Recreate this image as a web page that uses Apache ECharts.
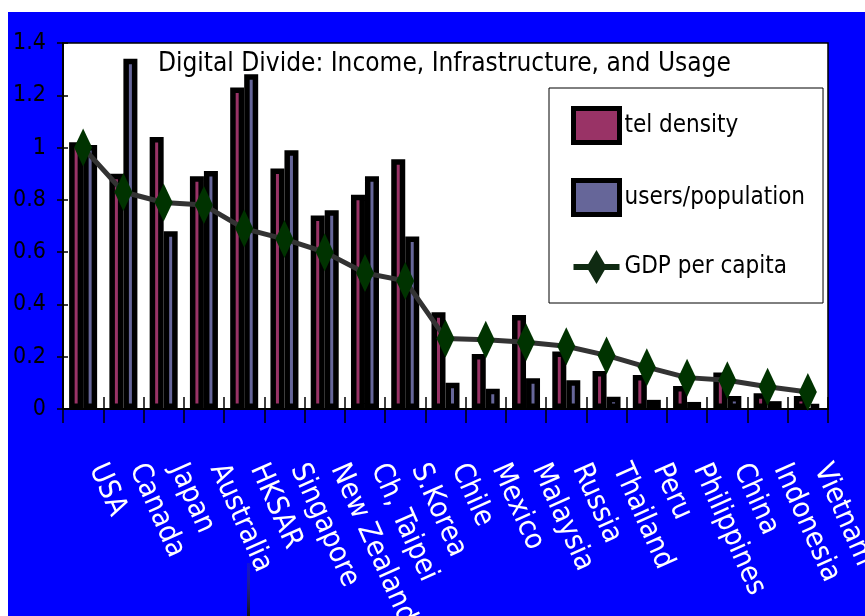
<!DOCTYPE html>
<html>
<head>
<meta charset="utf-8">
<script src="https://cdn.jsdelivr.net/npm/echarts@6/dist/echarts.min.js"></script>
<style>
html,body{margin:0;padding:0;background:#ffffff;}
#bg{position:absolute;left:8px;top:12px;width:857px;height:604px;background:#0000ff;}
#chart{position:absolute;left:0;top:0;width:865px;height:616px;}
</style>
</head>
<body>
<div id="bg"></div>
<div id="chart"></div>
<script>
const chartTitle = 'Digital Divide: Income, Infrastructure, and Usage';
const categories = ['USA','Canada','Japan','Australia','HKSAR','Singapore','New Zealand','Ch, Taipei','S.Korea','Chile','Mexico','Malaysia','Russia','Thailand','Peru','Philippines','China','Indonesia','Vietnam'];
const telDensity = [1.02, 0.90, 1.04, 0.89, 1.23, 0.92, 0.74, 0.82, 0.955, 0.37, 0.21, 0.36, 0.22, 0.145, 0.13, 0.088, 0.14, 0.06, 0.05];
const usersPopulation = [1.01, 1.34, 0.68, 0.91, 1.28, 0.99, 0.76, 0.89, 0.66, 0.10, 0.077, 0.118, 0.11, 0.047, 0.035, 0.027, 0.05, 0.03, 0.02];
const gdpPerCapita = [1.00, 0.83, 0.79, 0.78, 0.69, 0.65, 0.60, 0.52, 0.49, 0.27, 0.265, 0.255, 0.24, 0.205, 0.16, 0.12, 0.11, 0.085, 0.065];
const seriesNames = ['tel density', 'users/population', 'GDP per capita'];
const yMin = 0, yMax = 1.4, yStep = 0.2;

const FONT = "'Liberation Sans Narrow','Arial Narrow','DejaVu Sans Condensed',sans-serif";
const fringe = {textShadowColor: 'rgba(235,150,40,0.85)', textShadowBlur: 0, textShadowOffsetX: -1.5, textShadowOffsetY: 1};

const chart = echarts.init(document.getElementById('chart'), null, {renderer: 'canvas'});
const option = {
  animation: false,
  backgroundColor: 'transparent',
  title: {
    text: chartTitle,
    left: 158,
    top: 51,
    padding: 0,
    textStyle: Object.assign({fontFamily: FONT, fontSize: 26, fontWeight: 'normal', color: '#000'}, fringe)
  },
  legend: {
    orient: 'vertical',
    left: 549,
    top: 88,
    padding: [18, 18, 19, 22],
    itemWidth: 46,
    itemHeight: 34,
    itemGap: 33,
    itemTextGap: 8,
    symbolKeepAspect: false,
    borderColor: '#000',
    borderWidth: 1,
    borderRadius: 0,
    backgroundColor: '#fff',
    textStyle: Object.assign({fontFamily: FONT, fontSize: 24, color: '#000'}, fringe),
    data: [
      {name: seriesNames[0], icon: 'rect', itemStyle: {color: '#993366', borderColor: '#000', borderWidth: 5}},
      {name: seriesNames[1], icon: 'rect', itemStyle: {color: '#666699', borderColor: '#000', borderWidth: 5}},
      {name: seriesNames[2], icon: 'path://M0,14 L14.8,14 L23,0 L31.2,14 L46,14 L46,20 L31.2,20 L23,34 L14.8,20 L0,20 Z',
       itemStyle: {color: '#0f2a12', borderWidth: 0}}
    ]
  },
  grid: {
    left: 63, right: 37, top: 43, bottom: 207,
    outerBoundsMode: 'none',
    containLabel: false,
    show: true, backgroundColor: '#fff', borderColor: '#000', borderWidth: 1.5
  },
  xAxis: [
    {
      type: 'category', data: categories, position: 'bottom', boundaryGap: true,
      axisLine: {show: true, lineStyle: {color: '#000', width: 2}},
      axisTick: {show: true, inside: false, interval: 0, length: 14, lineStyle: {color: '#000', width: 1.5}},
      axisLabel: {interval: 0, rotate: -66, verticalAlign: 'bottom', color: '#fff', fontFamily: FONT, fontSize: 29, margin: 62},
      splitLine: {show: false}
    },
    {
      type: 'category', data: categories, position: 'bottom', boundaryGap: true,
      axisLine: {show: false},
      axisTick: {show: true, inside: true, interval: 0, length: 12, lineStyle: {color: '#000', width: 1.5}},
      axisLabel: {show: false, interval: 0},
      splitLine: {show: false}
    }
  ],
  yAxis: [
    {
      type: 'value', min: yMin, max: yMax, interval: yStep, position: 'left',
      axisLine: {show: true, lineStyle: {color: '#000', width: 2}},
      axisTick: {show: true, inside: false, length: 6, lineStyle: {color: '#000', width: 1.5}},
      axisLabel: {color: '#000', fontFamily: FONT, fontSize: 23, margin: 17},
      splitLine: {show: false}
    },
    {
      type: 'value', min: yMin, max: yMax, interval: yStep, position: 'left',
      axisLine: {show: false},
      axisTick: {show: true, inside: true, length: 5, lineStyle: {color: '#000', width: 1.5}},
      axisLabel: {show: false},
      splitLine: {show: false}
    }
  ],
  series: [
    {
      name: seriesNames[0], type: 'bar', data: telDensity, barWidth: 14, barGap: '0%', z: 2,
      itemStyle: {color: '#993366', borderColor: '#000', borderWidth: 5.5}
    },
    {
      name: seriesNames[1], type: 'bar', data: usersPopulation, barWidth: 14, barGap: '0%', z: 2,
      itemStyle: {color: '#666699', borderColor: '#000', borderWidth: 5.5}
    },
    {
      name: seriesNames[2], type: 'line', data: gdpPerCapita, z: 5,
      symbol: 'diamond', symbolSize: [18, 38], showAllSymbol: true,
      lineStyle: {color: '#333333', width: 5},
      itemStyle: {color: '#003300', borderWidth: 0}
    }
  ],
  graphic: [
    {
      type: 'rect', left: 247, top: 563, z: 10,
      shape: {width: 3, height: 53},
      style: {fill: {type: 'linear', x: 0, y: 0, x2: 0, y2: 1, colorStops: [{offset: 0, color: 'rgba(80,80,80,0.2)'}, {offset: 1, color: '#111'}]}}
    }
  ]
};
chart.setOption(option);
</script>
</body>
</html>
